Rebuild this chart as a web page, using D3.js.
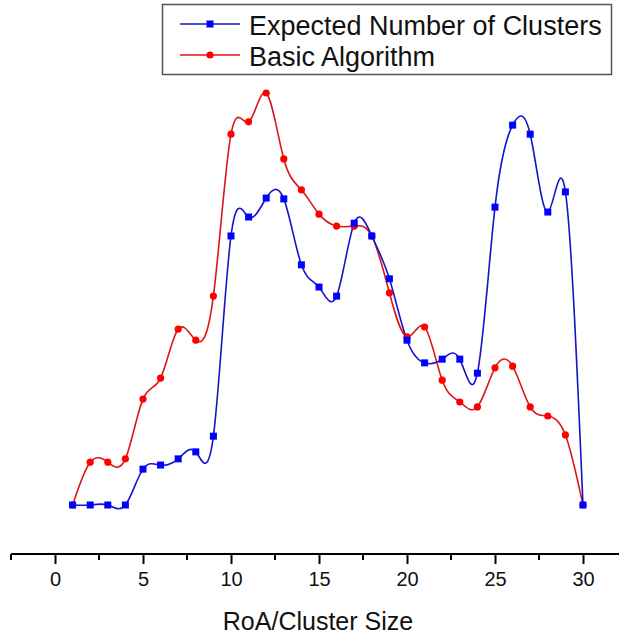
<!DOCTYPE html>
<html>
<head>
<meta charset="utf-8">
<script src="https://cdn.jsdelivr.net/npm/d3@7"></script>
<style>
  body { margin: 0; background: white; }
  text { font-family: "Liberation Sans", Arial, sans-serif; }
</style>
</head>
<body>
<div id="container"></div>
<script>
// data (no y axis in the original, so values are relative, red peak = 100)
let clusterSize = [1,2,3,4,5,6,7,8,9,10,11,12,13,14,15,16,17,18,19,20,21,22,23,24,25,26,27,28,29,30];
let expectedClusters = [0,0,0,0,8.7,9.7,11.2,12.9,16.7,65.3,69.9,74.5,74.3,58.3,52.9,50.7,68.4,65.3,54.9,40.0,34.5,35.4,35.4,32.0,72.3,92.2,90.0,71.1,76.0,0];
let basicAlgorithm = [0,10.4,10.4,11.2,25.7,30.8,42.7,40.0,50.7,90.0,93.0,100,84.0,76.5,70.6,67.7,67.7,65.3,51.5,40.8,43.2,30.3,25.0,23.8,33.3,33.7,23.8,21.6,17.0,0];
let xTicks = [0,5,10,15,20,25,30];
let seriesNames = ["Expected Number of Clusters", "Basic Algorithm"];

let w = 619;
let h = 635;

let viz = d3.select("#container")
  .append("svg")
    .attr("width", w)
    .attr("height", h)
    .style("background-color", "white");

// x: 0 sits at 55px, 30 at 583px
let xScale = d3.scaleLinear().domain([0, 30]).range([55, 583]);
let yScale = d3.scaleLinear().domain([0, 100]).range([505, 93]);

// bottom axis, runs off the right edge like the original
let axisY = 554;
let axisG = viz.append("g").attr("transform", "translate(0," + axisY + ")");
axisG.append("line")
  .attr("x1", xScale(-2.5)).attr("x2", w)
  .attr("stroke", "black").attr("stroke-width", 2);

let xAxis = d3.axisBottom(xScale)
  .tickValues(xTicks)
  .tickSize(10)
  .tickPadding(8)
  .tickFormat(d3.format("d"));
let ticks = axisG.append("g").call(xAxis);
ticks.select(".domain").remove();
ticks.selectAll(".tick line").attr("stroke", "black").attr("stroke-width", 2);
ticks.selectAll(".tick text").attr("font-size", 20).attr("fill", "#111").attr("font-family", "Liberation Sans, Arial, sans-serif");

// minor ticks halfway between
let minorTicks = xTicks.map(function(d){ return d - 2.5; }).concat([32.5]);
axisG.selectAll(".minor").data(minorTicks).enter()
  .append("line")
    .classed("minor", true)
    .attr("x1", xScale).attr("x2", xScale)
    .attr("y1", 0).attr("y2", 6)
    .attr("stroke", "black").attr("stroke-width", 2);

viz.append("text")
  .attr("x", 318)
  .attr("y", 630)
  .attr("text-anchor", "middle")
  .attr("font-size", 25)
  .attr("fill", "#111")
  .text("RoA/Cluster Size");

// spline lines
let line = d3.line()
  .x(function(d, i){ return xScale(clusterSize[i]); })
  .y(function(d){ return yScale(d); })
  .curve(d3.curveNatural);

viz.append("path")
  .attr("d", line(basicAlgorithm))
  .attr("fill", "none")
  .attr("stroke", "#dd1515")
  .attr("stroke-width", 1.6);

viz.append("path")
  .attr("d", line(expectedClusters))
  .attr("fill", "none")
  .attr("stroke", "#1414c8")
  .attr("stroke-width", 1.6);

// markers
viz.selectAll(".redDot").data(basicAlgorithm).enter()
  .append("circle")
    .classed("redDot", true)
    .attr("cx", function(d, i){ return xScale(clusterSize[i]); })
    .attr("cy", yScale)
    .attr("r", 3.6)
    .attr("fill", "#ff0000");

viz.selectAll(".blueSq").data(expectedClusters).enter()
  .append("rect")
    .classed("blueSq", true)
    .attr("x", function(d, i){ return xScale(clusterSize[i]) - 3.5; })
    .attr("y", function(d){ return yScale(d) - 3.5; })
    .attr("width", 7)
    .attr("height", 7)
    .attr("fill", "#0000ff");

// legend box
let legend = viz.append("g");
legend.append("rect")
  .attr("x", 162.5).attr("y", 4.5)
  .attr("width", 449).attr("height", 70)
  .attr("fill", "white")
  .attr("stroke", "#555").attr("stroke-width", 1.5);

let legendColors = ["#1414c8", "#dd1515"];
let legendRows = [24, 55];
seriesNames.forEach(function(name, i){
  let y = legendRows[i];
  legend.append("line")
    .attr("x1", 180).attr("x2", 240)
    .attr("y1", y).attr("y2", y)
    .attr("stroke", legendColors[i]).attr("stroke-width", 1.6);
  if (i == 0) {
    legend.append("rect")
      .attr("x", 206.5).attr("y", y - 3.5)
      .attr("width", 7).attr("height", 7)
      .attr("fill", "#0000ff");
  } else {
    legend.append("circle")
      .attr("cx", 210).attr("cy", y)
      .attr("r", 3.6)
      .attr("fill", "#ff0000");
  }
  legend.append("text")
    .attr("x", 249)
    .attr("y", y + 11)
    .attr("font-size", 27)
    .attr("fill", "#111")
    .text(name);
});
</script>
</body>
</html>
